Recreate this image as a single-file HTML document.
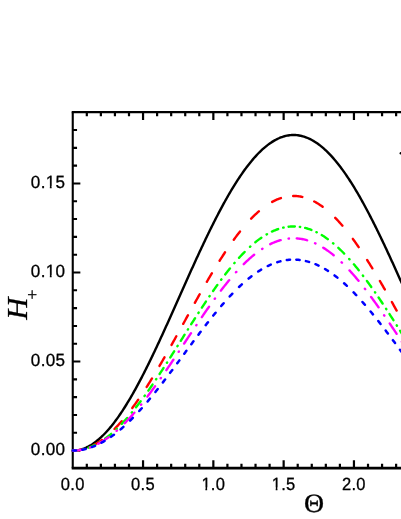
<!DOCTYPE html>
<html><head><meta charset="utf-8"><title>chart</title>
<style>html,body{margin:0;padding:0;background:#fff;}body{width:401px;height:519px;overflow:hidden;position:relative;font-family:"Liberation Sans",sans-serif;}.sans{font-family:"Liberation Sans",sans-serif;}.serif{font-family:"Liberation Serif",serif;}text{text-rendering:geometricPrecision;}</style>
</head><body>
<svg width="401" height="519" viewBox="0 0 401 519" style="position:absolute;left:0;top:0;will-change:transform">
<rect x="0" y="0" width="401" height="519" fill="#fff"/>
<g stroke="#000" fill="none">
<path d="M406,112.2 L71.7,112.2" stroke-width="2.25"/>
<path d="M72.75,112.2 L72.75,468.15" stroke-width="2.1"/>
<path d="M71.7,468.15 L406,468.15" stroke-width="2.85"/>
<path d="M86.81,112.2 v4.0 M86.81,468.15 v-4.3 M100.87,112.2 v4.0 M100.87,468.15 v-4.3 M114.93,112.2 v4.0 M114.93,468.15 v-4.3 M128.99,112.2 v4.0 M128.99,468.15 v-4.3 M143.05,112.2 v7.75 M143.05,468.15 v-7.9 M157.11,112.2 v4.0 M157.11,468.15 v-4.3 M171.17,112.2 v4.0 M171.17,468.15 v-4.3 M185.23,112.2 v4.0 M185.23,468.15 v-4.3 M199.29,112.2 v4.0 M199.29,468.15 v-4.3 M213.35,112.2 v7.75 M213.35,468.15 v-7.9 M227.41,112.2 v4.0 M227.41,468.15 v-4.3 M241.47,112.2 v4.0 M241.47,468.15 v-4.3 M255.53,112.2 v4.0 M255.53,468.15 v-4.3 M269.59,112.2 v4.0 M269.59,468.15 v-4.3 M283.65,112.2 v7.75 M283.65,468.15 v-7.9 M297.71,112.2 v4.0 M297.71,468.15 v-4.3 M311.77,112.2 v4.0 M311.77,468.15 v-4.3 M325.83,112.2 v4.0 M325.83,468.15 v-4.3 M339.89,112.2 v4.0 M339.89,468.15 v-4.3 M353.95,112.2 v7.75 M353.95,468.15 v-7.9 M368.01,112.2 v4.0 M368.01,468.15 v-4.3 M382.07,112.2 v4.0 M382.07,468.15 v-4.3 M396.13,112.2 v4.0 M396.13,468.15 v-4.3" stroke-width="2.2"/>
<path d="M72.75,450.60 h7.6 M72.75,432.79 h4.3 M72.75,414.98 h4.3 M72.75,397.17 h4.3 M72.75,379.36 h4.3 M72.75,361.55 h7.6 M72.75,343.74 h4.3 M72.75,325.93 h4.3 M72.75,308.12 h4.3 M72.75,290.31 h4.3 M72.75,272.50 h7.6 M72.75,254.69 h4.3 M72.75,236.88 h4.3 M72.75,219.07 h4.3 M72.75,201.26 h4.3 M72.75,183.45 h7.6 M72.75,165.64 h4.3 M72.75,147.83 h4.3 M72.75,130.02 h4.3" stroke-width="2.1"/>
</g>
<g fill="none" stroke-linecap="round" stroke-linejoin="round">
<path d="M72.75,450.60 L73.98,450.57 L75.20,450.50 L76.43,450.37 L77.65,450.19 L78.88,449.97 L80.10,449.69 L81.33,449.36 L82.55,448.98 L83.78,448.55 L85.01,448.07 L86.23,447.54 L87.46,446.96 L88.68,446.33 L89.91,445.65 L91.13,444.92 L92.36,444.14 L93.58,443.32 L94.81,442.44 L96.04,441.52 L97.26,440.55 L98.49,439.54 L99.71,438.47 L100.94,437.36 L102.16,436.21 L103.39,435.01 L104.62,433.76 L105.84,432.47 L106.95,431.26 L108.07,430.01 L109.18,428.72 L110.30,427.40 L111.30,426.18 L112.30,424.94 L113.31,423.66 L114.31,422.36 L115.31,421.03 L116.20,419.82 L117.09,418.60 L117.99,417.35 L118.88,416.08 L119.77,414.80 L120.66,413.49 L121.55,412.16 L122.44,410.81 L123.33,409.44 L124.11,408.23 L124.89,407.00 L125.67,405.76 L126.45,404.51 L127.23,403.24 L128.01,401.95 L128.79,400.66 L129.57,399.35 L130.35,398.02 L131.13,396.69 L131.91,395.34 L132.69,393.97 L133.47,392.60 L134.25,391.21 L135.03,389.81 L135.70,388.60 L136.37,387.38 L137.04,386.16 L137.71,384.92 L138.37,383.68 L139.04,382.42 L139.71,381.16 L140.38,379.90 L141.05,378.62 L141.72,377.34 L142.39,376.05 L143.05,374.75 L143.72,373.44 L144.39,372.13 L145.06,370.81 L145.73,369.48 L146.40,368.15 L147.06,366.81 L147.73,365.46 L148.40,364.11 L149.07,362.75 L149.74,361.38 L150.41,360.01 L151.08,358.63 L151.74,357.25 L152.41,355.86 L153.08,354.46 L153.75,353.06 L154.42,351.66 L155.09,350.25 L155.76,348.83 L156.42,347.41 L157.09,345.98 L157.76,344.56 L158.43,343.12 L159.10,341.68 L159.66,340.48 L160.21,339.28 L160.77,338.07 L161.33,336.86 L161.88,335.65 L162.44,334.43 L163.00,333.22 L163.55,332.00 L164.11,330.78 L164.67,329.55 L165.23,328.33 L165.78,327.10 L166.34,325.87 L166.90,324.64 L167.45,323.40 L168.01,322.17 L168.57,320.93 L169.13,319.69 L169.68,318.45 L170.24,317.21 L170.80,315.97 L171.35,314.73 L171.91,313.48 L172.47,312.24 L173.03,310.99 L173.58,309.74 L174.14,308.50 L174.70,307.25 L175.25,306.00 L175.81,304.75 L176.37,303.50 L176.92,302.25 L177.48,301.00 L178.04,299.75 L178.60,298.49 L179.15,297.24 L179.71,295.99 L180.27,294.74 L180.82,293.49 L181.38,292.24 L181.94,290.99 L182.50,289.74 L183.05,288.49 L183.61,287.24 L184.17,285.99 L184.72,284.74 L185.28,283.49 L185.84,282.25 L186.39,281.00 L186.95,279.76 L187.51,278.52 L188.07,277.27 L188.62,276.03 L189.18,274.79 L189.74,273.56 L190.29,272.32 L190.85,271.08 L191.41,269.85 L191.97,268.62 L192.52,267.39 L193.08,266.16 L193.64,264.94 L194.19,263.71 L194.75,262.49 L195.31,261.27 L195.87,260.05 L196.42,258.84 L196.98,257.62 L197.54,256.41 L198.09,255.21 L198.65,254.00 L199.21,252.80 L199.88,251.36 L200.54,249.92 L201.21,248.49 L201.88,247.07 L202.55,245.64 L203.22,244.23 L203.89,242.81 L204.56,241.40 L205.22,240.00 L205.89,238.60 L206.56,237.21 L207.23,235.82 L207.90,234.44 L208.57,233.06 L209.24,231.69 L209.90,230.33 L210.57,228.97 L211.24,227.61 L211.91,226.26 L212.58,224.92 L213.25,223.59 L213.91,222.26 L214.58,220.94 L215.25,219.62 L215.92,218.31 L216.59,217.01 L217.26,215.72 L217.93,214.43 L218.59,213.15 L219.26,211.88 L219.93,210.61 L220.60,209.35 L221.27,208.10 L221.94,206.86 L222.61,205.62 L223.27,204.40 L223.94,203.18 L224.61,201.97 L225.28,200.76 L226.06,199.37 L226.84,197.99 L227.62,196.62 L228.40,195.26 L229.18,193.92 L229.96,192.58 L230.74,191.26 L231.52,189.95 L232.30,188.66 L233.08,187.37 L233.86,186.10 L234.64,184.84 L235.42,183.60 L236.20,182.36 L236.98,181.15 L237.76,179.94 L238.65,178.58 L239.54,177.24 L240.43,175.91 L241.32,174.61 L242.21,173.32 L243.11,172.05 L244.00,170.80 L244.89,169.57 L245.78,168.35 L246.78,167.01 L247.79,165.70 L248.79,164.41 L249.79,163.14 L250.79,161.90 L251.80,160.69 L252.91,159.37 L254.02,158.08 L255.14,156.83 L256.25,155.61 L257.48,154.30 L258.70,153.04 L259.93,151.81 L261.16,150.63 L262.38,149.49 L263.61,148.39 L264.83,147.33 L266.06,146.31 L267.28,145.34 L268.51,144.41 L269.73,143.52 L270.96,142.67 L272.19,141.87 L273.41,141.11 L274.64,140.40 L275.86,139.73 L277.09,139.10 L278.31,138.52 L279.54,137.98 L280.76,137.48 L281.99,137.03 L283.22,136.63 L284.44,136.27 L285.67,135.95 L286.89,135.68 L288.12,135.46 L289.34,135.28 L290.57,135.15 L291.80,135.06 L293.02,135.01 L294.25,135.01 L295.47,135.06 L296.70,135.15 L297.92,135.29 L299.15,135.47 L300.37,135.70 L301.60,135.97 L302.83,136.29 L304.05,136.65 L305.28,137.05 L306.50,137.51 L307.73,138.00 L308.95,138.54 L310.18,139.13 L311.40,139.76 L312.63,140.43 L313.86,141.15 L315.08,141.91 L316.31,142.71 L317.53,143.56 L318.76,144.45 L319.98,145.39 L321.21,146.36 L322.43,147.38 L323.66,148.44 L324.89,149.54 L326.11,150.69 L327.34,151.87 L328.56,153.10 L329.79,154.37 L331.01,155.67 L332.13,156.90 L333.24,158.15 L334.36,159.44 L335.47,160.76 L336.47,161.98 L337.48,163.22 L338.48,164.48 L339.48,165.78 L340.48,167.09 L341.49,168.43 L342.38,169.65 L343.27,170.88 L344.16,172.13 L345.05,173.40 L345.94,174.69 L346.83,176.00 L347.73,177.32 L348.62,178.67 L349.51,180.03 L350.29,181.24 L351.07,182.46 L351.85,183.69 L352.63,184.94 L353.41,186.20 L354.19,187.47 L354.97,188.75 L355.75,190.05 L356.53,191.36 L357.31,192.68 L358.09,194.02 L358.87,195.36 L359.65,196.72 L360.43,198.09 L361.21,199.48 L361.99,200.87 L362.66,202.07 L363.32,203.29 L363.99,204.50 L364.66,205.73 L365.33,206.97 L366.00,208.21 L366.67,209.46 L367.34,210.72 L368.00,211.99 L368.67,213.26 L369.34,214.54 L370.01,215.83 L370.68,217.13 L371.35,218.43 L372.02,219.74 L372.68,221.05 L373.35,222.38 L374.02,223.71 L374.69,225.04 L375.36,226.38 L376.03,227.73 L376.69,229.09 L377.36,230.45 L378.03,231.81 L378.70,233.18 L379.37,234.56 L380.04,235.94 L380.71,237.33 L381.37,238.73 L382.04,240.13 L382.71,241.53 L383.38,242.94 L384.05,244.35 L384.72,245.77 L385.39,247.19 L386.05,248.62 L386.72,250.05 L387.39,251.49 L388.06,252.93 L388.62,254.13 L389.17,255.33 L389.73,256.54 L390.29,257.75 L390.84,258.97 L391.40,260.18 L391.96,261.40 L392.52,262.62 L393.07,263.84 L393.63,265.07 L394.19,266.29 L394.74,267.52 L395.30,268.75 L395.86,269.98 L396.42,271.21 L396.97,272.45 L397.53,273.69 L398.09,274.92 L398.64,276.16 L399.20,277.40 L399.76,278.65 L400.31,279.89 L400.87,281.13 L401.43,282.38 L401.99,283.63 L402.54,284.87 L403.10,286.12 L403.66,287.37 L404.21,288.62 L404.77,289.87 L405.33,291.12 L405.89,292.37 L406.44,293.62 L407.00,294.87" stroke="#000" stroke-width="2.4"/>
<path d="M72.75,450.60 L73.75,450.59 L74.76,450.55 L75.76,450.48 L76.76,450.39 L77.76,450.28 L78.77,450.14 L79.77,449.97 L80.77,449.78 L81.61,449.60 M93.48,445.16 L94.59,444.57 L95.59,444.00 L96.59,443.42 L97.60,442.81 L98.60,442.17 L99.60,441.51 L100.60,440.83 L101.61,440.13 L101.92,439.90 M114.51,428.99 L115.53,427.95 L116.54,426.91 L117.54,425.85 L118.54,424.77 L119.55,423.66 L120.55,422.54 L121.44,421.53 L121.72,421.20 M132.29,407.96 L133.14,406.81 L133.92,405.74 L134.70,404.67 L135.48,403.58 L136.26,402.48 L137.04,401.37 L137.82,400.26 L138.20,399.71 M146.68,386.93 L147.40,385.81 L148.07,384.75 L148.74,383.69 L149.40,382.62 L150.07,381.55 L150.74,380.48 L151.41,379.39 L151.97,378.49 M159.52,365.90 L160.21,364.71 L160.88,363.57 L161.55,362.42 L162.22,361.27 L162.89,360.11 L163.55,358.95 L164.22,357.79 L164.47,357.37 M171.55,344.87 L172.13,343.83 L172.80,342.63 L173.47,341.43 L174.14,340.24 L174.81,339.04 L175.36,338.04 L175.92,337.03 L176.33,336.29 M183.22,323.84 L183.83,322.74 L184.39,321.73 L184.95,320.72 L185.50,319.71 L186.06,318.70 L186.62,317.69 L187.17,316.69 L187.73,315.68 L187.97,315.25 M194.88,302.81 L195.53,301.65 L196.20,300.45 L196.87,299.26 L197.54,298.07 L198.21,296.89 L198.87,295.70 L199.54,294.52 L199.70,294.24 M206.86,281.78 L207.45,280.76 L208.12,279.62 L208.79,278.48 L209.46,277.35 L210.13,276.22 L210.80,275.09 L211.46,273.97 L211.88,273.27 M219.58,260.75 L220.27,259.67 L220.93,258.62 L221.60,257.58 L222.27,256.54 L222.94,255.51 L223.61,254.49 L224.28,253.47 L224.95,252.46 L225.01,252.35 M233.78,239.72 L234.53,238.70 L235.31,237.64 L236.09,236.60 L236.87,235.57 L237.65,234.55 L238.43,233.53 L239.32,232.39 L239.97,231.56 M251.16,218.69 L252.13,217.69 L253.13,216.68 L254.14,215.70 L255.14,214.73 L256.14,213.79 L257.14,212.87 L258.15,211.97 L258.87,211.34 M272.15,201.91 L273.19,201.35 L274.19,200.84 L275.19,200.35 L276.20,199.89 L277.20,199.46 L278.20,199.04 L279.21,198.66 L280.21,198.30 L280.94,198.05 M293.18,195.97 L294.25,195.98 L295.25,196.01 L296.25,196.06 L297.25,196.14 L298.26,196.25 L299.26,196.39 L300.26,196.55 L301.27,196.73 L302.27,196.95 L302.35,196.96 M314.21,201.46 L315.30,202.05 L316.31,202.62 L317.31,203.21 L318.31,203.83 L319.32,204.47 L320.32,205.14 L321.32,205.83 L322.32,206.55 L322.64,206.78 M335.23,217.85 L336.25,218.90 L337.25,219.95 L338.26,221.03 L339.26,222.12 L340.26,223.24 L341.15,224.25 L342.04,225.28 L342.38,225.66 M352.82,238.88 L353.63,240.00 L354.41,241.07 L355.19,242.16 L355.97,243.26 L356.75,244.36 L357.53,245.48 L358.31,246.61 L358.68,247.14 M367.10,259.91 L367.78,260.99 L368.45,262.05 L369.12,263.12 L369.79,264.19 L370.46,265.27 L371.12,266.35 L371.79,267.44 L372.35,268.36 M379.86,280.94 L380.48,282.00 L381.15,283.15 L381.82,284.31 L382.49,285.46 L383.16,286.62 L383.83,287.78 L384.49,288.95 L384.80,289.48 M391.86,301.97 L392.52,303.15 L393.18,304.34 L393.85,305.54 L394.41,306.54 L394.97,307.55 L395.52,308.55 L396.08,309.55 L396.64,310.55 M403.52,323.00 L404.10,324.06 L404.66,325.06 L405.22,326.07 L405.77,327.08 L406.33,328.09 L406.89,329.10 L407.00,329.30" stroke="#f00" stroke-width="2.4"/>
<path d="M72.75,450.60 L73.75,450.59 L74.76,450.55 L75.76,450.49 L76.76,450.41 L77.76,450.31 L78.30,450.24 M83.25,449.32 L83.65,449.22 M88.60,447.69 L89.69,447.27 L90.69,446.87 L91.69,446.45 L92.69,446.00 L93.70,445.53 L94.70,445.03 L94.79,444.99 M99.85,442.15 L100.24,441.91 M105.20,438.56 L106.29,437.76 L107.29,437.00 L108.29,436.21 L109.29,435.41 L110.30,434.59 L111.17,433.85 M116.45,429.11 L116.82,428.75 M121.74,423.82 L122.78,422.74 L123.78,421.66 L124.78,420.57 L125.78,419.46 L126.79,418.34 L127.13,417.94 M131.71,412.57 L132.02,412.20 M136.03,407.22 L136.81,406.22 L137.59,405.22 L138.37,404.21 L139.15,403.19 L139.93,402.16 L140.63,401.24 M144.51,395.97 L144.79,395.59 M148.33,390.62 L149.07,389.58 L149.85,388.46 L150.63,387.34 L151.41,386.21 L152.19,385.07 L152.52,384.59 M156.05,379.37 L156.31,378.99 M159.60,374.02 L160.32,372.93 L160.99,371.91 L161.66,370.89 L162.33,369.86 L163.00,368.83 L163.56,367.96 M166.90,362.77 L167.15,362.39 M170.31,357.42 L171.02,356.31 L171.69,355.25 L172.36,354.20 L173.03,353.14 L173.69,352.08 L174.16,351.35 M177.41,346.17 L177.65,345.79 M180.77,340.82 L181.49,339.67 L182.16,338.60 L182.83,337.54 L183.50,336.47 L184.17,335.41 L184.58,334.74 M187.83,329.57 L188.08,329.19 M191.21,324.22 L191.85,323.21 L192.52,322.16 L193.19,321.11 L193.86,320.06 L194.53,319.01 L195.08,318.15 M198.40,312.97 L198.65,312.59 M201.88,307.62 L202.55,306.61 L203.22,305.59 L203.89,304.58 L204.56,303.57 L205.22,302.56 L205.89,301.57 M209.39,296.37 L209.65,295.99 M213.07,291.02 L213.80,289.97 L214.58,288.86 L215.36,287.76 L216.14,286.66 L216.92,285.57 L217.33,285.00 M221.14,279.77 L221.43,279.39 M225.19,274.42 L226.06,273.30 L226.95,272.16 L227.84,271.03 L228.73,269.91 L229.62,268.80 L229.91,268.45 M234.30,263.17 L234.62,262.80 M239.02,257.82 L239.99,256.78 L240.99,255.70 L241.99,254.64 L242.99,253.60 L244.00,252.58 L244.60,251.97 M250.00,246.82 L250.37,246.48 M255.35,242.24 L256.36,241.43 L257.37,240.65 L258.37,239.89 L259.37,239.15 L260.38,238.43 L261.35,237.75 M266.60,234.41 L266.99,234.19 M271.95,231.60 L272.97,231.13 L273.97,230.69 L274.97,230.27 L275.97,229.87 L276.98,229.50 L277.98,229.14 L278.15,229.09 M283.20,227.65 L283.60,227.56 M288.55,226.74 L289.57,226.64 L290.57,226.56 L291.57,226.51 L292.58,226.47 L293.58,226.46 L294.58,226.47 L294.85,226.48 M299.80,226.88 L300.20,226.94 M305.15,227.93 L306.17,228.20 L307.17,228.49 L308.17,228.79 L309.18,229.13 L310.18,229.48 L311.18,229.85 L311.38,229.93 M316.40,232.15 L316.79,232.34 M321.75,235.09 L322.77,235.72 L323.77,236.36 L324.77,237.02 L325.78,237.70 L326.78,238.39 L327.78,239.11 L327.80,239.13 M333.00,243.17 L333.38,243.48 M338.35,247.86 L339.37,248.82 L340.37,249.78 L341.38,250.75 L342.38,251.74 L343.38,252.75 L344.17,253.55 M349.22,258.96 L349.55,259.34 M353.88,264.31 L354.75,265.35 L355.64,266.42 L356.53,267.50 L357.42,268.60 L358.31,269.70 L358.76,270.26 M362.89,275.56 L363.18,275.94 M366.91,280.91 L367.67,281.95 L368.45,283.02 L369.23,284.10 L370.01,285.18 L370.79,286.27 L371.26,286.93 M374.93,292.16 L375.20,292.55 M378.59,297.51 L379.37,298.66 L380.15,299.82 L380.93,300.98 L381.60,301.98 L382.27,302.99 L382.65,303.57 M386.07,308.76 L386.32,309.15 M389.54,314.11 L390.29,315.28 L390.96,316.32 L391.62,317.36 L392.29,318.40 L392.96,319.45 L393.43,320.19 M396.72,325.36 L396.96,325.75 M400.09,330.71 L400.76,331.78 L401.43,332.84 L402.10,333.90 L402.77,334.97 L403.43,336.03 L403.91,336.79" stroke="#0f0" stroke-width="2.4"/>
<path d="M72.75,450.60 L73.75,450.59 L74.76,450.56 L75.76,450.50 L76.76,450.43 L77.76,450.33 L78.77,450.22 L79.77,450.08 L80.77,449.92 L81.77,449.74 L82.15,449.66 M90.05,447.43 L90.45,447.29 M98.25,443.76 L99.27,443.21 L100.27,442.65 L101.27,442.07 L102.28,441.46 L103.28,440.84 L104.28,440.20 L105.28,439.54 L106.29,438.86 L107.29,438.16 L108.29,437.45 L108.65,437.18 M116.55,430.84 L116.95,430.49 M124.75,423.11 L125.78,422.05 L126.79,421.01 L127.79,419.96 L128.79,418.89 L129.80,417.81 L130.80,416.71 L131.80,415.60 L132.69,414.60 L133.58,413.58 L134.35,412.71 M140.95,404.81 L141.27,404.41 M147.38,396.61 L148.18,395.55 L148.96,394.52 L149.74,393.48 L150.52,392.43 L151.30,391.38 L152.08,390.33 L152.86,389.26 L153.64,388.20 L154.42,387.12 L155.08,386.21 M160.69,378.31 L160.97,377.91 M166.36,370.11 L167.12,368.99 L167.90,367.85 L168.68,366.70 L169.46,365.55 L170.24,364.39 L171.02,363.24 L171.80,362.08 L172.58,360.91 L173.36,359.75 L173.39,359.71 M178.66,351.81 L178.92,351.41 M184.09,343.61 L184.84,342.48 L185.50,341.47 L186.17,340.46 L186.84,339.46 L187.51,338.45 L188.18,337.44 L188.85,336.43 L189.51,335.43 L190.18,334.42 L190.85,333.41 L190.99,333.21 M196.27,325.31 L196.54,324.91 M201.84,317.11 L202.55,316.06 L203.33,314.93 L204.11,313.80 L204.89,312.67 L205.67,311.55 L206.45,310.43 L207.23,309.31 L208.01,308.20 L208.79,307.10 L209.06,306.71 M214.75,298.81 L215.04,298.41 M220.88,290.61 L221.71,289.52 L222.49,288.52 L223.27,287.52 L224.17,286.38 L225.06,285.26 L225.95,284.14 L226.84,283.04 L227.73,281.94 L228.62,280.86 L229.16,280.21 M235.97,272.31 L236.33,271.91 M243.76,264.11 L244.78,263.11 L245.78,262.15 L246.78,261.19 L247.79,260.26 L248.79,259.34 L249.79,258.44 L250.79,257.56 L251.80,256.70 L252.80,255.85 L253.80,255.02 L254.16,254.73 M262.06,248.91 L262.46,248.65 M270.26,244.16 L271.29,243.66 L272.30,243.19 L273.30,242.74 L274.30,242.32 L275.31,241.92 L276.31,241.53 L277.31,241.17 L278.31,240.83 L279.32,240.51 L280.32,240.21 L280.66,240.12 M288.56,238.58 L288.96,238.54 M296.76,238.41 L297.81,238.50 L298.81,238.60 L299.82,238.72 L300.82,238.87 L301.82,239.04 L302.83,239.23 L303.83,239.44 L304.83,239.67 L305.83,239.92 L306.84,240.20 L307.16,240.29 M315.06,243.26 L315.46,243.45 M323.26,247.70 L324.33,248.38 L325.33,249.03 L326.33,249.71 L327.34,250.41 L328.34,251.12 L329.34,251.86 L330.35,252.61 L331.35,253.38 L332.35,254.17 L333.35,254.98 L333.66,255.23 M341.56,262.28 L341.96,262.66 M349.52,270.43 L350.51,271.51 L351.51,272.62 L352.52,273.74 L353.41,274.76 L354.30,275.78 L355.19,276.81 L356.08,277.86 L356.97,278.92 L357.87,279.98 L358.56,280.83 M364.88,288.73 L365.19,289.13 M371.08,296.93 L371.90,298.04 L372.68,299.11 L373.46,300.18 L374.24,301.25 L375.02,302.33 L375.80,303.42 L376.58,304.51 L377.36,305.61 L378.14,306.71 L378.58,307.33 M384.08,315.23 L384.36,315.63 M389.67,323.43 L390.40,324.51 L391.18,325.67 L391.96,326.83 L392.74,328.00 L393.52,329.16 L394.19,330.16 L394.86,331.16 L395.52,332.16 L396.19,333.17 L396.63,333.83 M401.87,341.73 L402.14,342.13" stroke="#f0f" stroke-width="2.4"/>
<path d="M72.85,450.60 L73.86,450.59 L74.87,450.56 L75.87,450.51 L76.10,450.49 M82.40,449.70 L83.45,449.50 L84.45,449.28 L85.45,449.05 L85.61,449.01 M91.94,447.07 L93.03,446.66 L94.03,446.27 L95.03,445.85 L95.08,445.83 M101.49,442.75 L102.50,442.19 L103.50,441.63 L104.50,441.04 L104.52,441.04 M111.04,436.81 L112.08,436.07 L113.08,435.34 L113.95,434.70 M120.59,429.37 L121.66,428.45 L122.66,427.57 L123.38,426.93 M130.13,420.57 L131.13,419.58 L132.14,418.57 L132.81,417.88 M139.26,411.03 L140.27,409.91 L141.27,408.79 L141.75,408.26 M147.60,401.48 L148.51,400.39 L149.40,399.32 L149.95,398.66 M155.41,391.94 L156.31,390.81 L157.20,389.68 L157.68,389.08 M162.88,382.39 L163.67,381.37 L164.45,380.35 L165.09,379.51 M170.12,372.84 L170.91,371.79 L171.69,370.75 L172.28,369.95 M177.22,363.29 L178.04,362.19 L178.82,361.13 L179.36,360.40 M184.26,353.75 L185.06,352.66 L185.84,351.60 L186.39,350.85 M191.30,344.20 L192.08,343.16 L192.86,342.11 L193.45,341.31 M198.43,334.65 L199.21,333.63 L199.99,332.60 L200.61,331.77 M205.72,325.11 L206.56,324.03 L207.45,322.89 L207.96,322.24 M213.27,315.56 L214.14,314.50 L215.03,313.40 L215.59,312.72 M221.22,306.01 L222.16,304.92 L223.05,303.89 L223.64,303.22 M229.74,296.47 L230.74,295.40 L231.74,294.34 L232.33,293.73 M239.07,287.00 L240.10,286.03 L241.10,285.10 L241.82,284.44 M248.62,278.57 L249.68,277.71 L250.68,276.92 L251.48,276.31 M258.17,271.54 L259.26,270.83 L260.26,270.20 L261.14,269.66 M267.71,266.06 L268.73,265.57 L269.73,265.10 L270.74,264.66 L270.81,264.63 M277.26,262.22 L278.31,261.90 L279.32,261.61 L280.32,261.34 L280.45,261.31 M286.81,260.09 L287.90,259.96 L288.90,259.86 L289.90,259.77 L290.05,259.76 M296.35,259.71 L297.37,259.78 L298.37,259.86 L299.37,259.96 L299.60,259.99 M305.90,261.10 L306.95,261.36 L307.95,261.63 L308.95,261.91 L309.09,261.95 M315.45,264.22 L316.53,264.68 L317.53,265.13 L318.54,265.59 L318.55,265.60 M325.00,269.02 L326.00,269.62 L327.00,270.24 L327.99,270.86 M334.54,275.41 L335.58,276.19 L336.58,276.97 L337.41,277.62 M344.09,283.26 L345.16,284.23 L346.17,285.15 L346.85,285.79 M353.61,292.42 L354.63,293.47 L355.64,294.52 L356.23,295.14 M362.47,301.97 L363.44,303.07 L364.33,304.09 L364.91,304.76 M370.62,311.51 L371.46,312.52 L372.35,313.61 L372.95,314.35 M378.32,321.06 L379.15,322.11 L380.04,323.25 L380.56,323.92 M385.71,330.61 L386.50,331.65 L387.28,332.67 L387.90,333.49 M392.90,340.15 L393.74,341.29 L394.52,342.34 L395.05,343.05 M399.97,349.70 L400.76,350.78 L401.54,351.83 L402.10,352.60" stroke="#00f" stroke-width="2.5"/>
</g>
<path d="M400.8,153.3 h4" stroke="#000" stroke-width="2.4" stroke-linecap="round" fill="none"/>
<g class="sans" font-size="17.7" fill="#000" stroke="#000" stroke-width="0.3" stroke-linejoin="round">
<g transform="translate(72.70,489.55) scale(0.935,1)"><text text-anchor="middle" letter-spacing="0.3">0.0</text></g>
<g transform="translate(143.00,489.55) scale(0.935,1)"><text text-anchor="middle" letter-spacing="0.3">0.5</text></g>
<g transform="translate(213.30,489.55) scale(0.935,1)"><text text-anchor="middle" letter-spacing="0.3">1.0</text><rect x="-12.55" y="-2.15" width="4.10" height="3.85" fill="#fff" stroke="none"/><rect x="-6.58" y="-2.15" width="3.6" height="3.85" fill="#fff" stroke="none"/></g>
<g transform="translate(283.60,489.55) scale(0.935,1)"><text text-anchor="middle" letter-spacing="0.3">1.5</text><rect x="-12.55" y="-2.15" width="4.10" height="3.85" fill="#fff" stroke="none"/><rect x="-6.58" y="-2.15" width="3.6" height="3.85" fill="#fff" stroke="none"/></g>
<g transform="translate(353.90,489.55) scale(0.935,1)"><text text-anchor="middle" letter-spacing="0.3">2.0</text></g>
<g transform="translate(65.25,455.20) scale(0.965,1)"><text text-anchor="end" letter-spacing="0.3">0.00</text></g>
<g transform="translate(65.25,366.15) scale(0.965,1)"><text text-anchor="end" letter-spacing="0.3">0.05</text></g>
<g transform="translate(65.25,277.10) scale(0.965,1)"><text text-anchor="end" letter-spacing="0.3">0.10</text><rect x="-20.08" y="-2.15" width="4.10" height="3.85" fill="#fff" stroke="none"/><rect x="-14.12" y="-2.15" width="3.6" height="3.85" fill="#fff" stroke="none"/></g>
<g transform="translate(65.25,188.05) scale(0.965,1)"><text text-anchor="end" letter-spacing="0.3">0.15</text><rect x="-20.08" y="-2.15" width="4.10" height="3.85" fill="#fff" stroke="none"/><rect x="-14.12" y="-2.15" width="3.6" height="3.85" fill="#fff" stroke="none"/></g>
</g>
<g class="serif" fill="#000">
<text transform="translate(314.0,511.5) scale(1.057,1)" font-size="26.3" text-anchor="middle" stroke="#000" stroke-width="0.35">&#920;</text>
<g transform="translate(27.4,319.8) rotate(-90)" stroke="#000" stroke-width="0.3"><text transform="scale(1.06,1)" x="0" y="0" font-size="29" font-style="italic">H</text><text x="20.3" y="10.9" font-size="17.5">+</text></g>
</g>
</svg>
</body></html>
